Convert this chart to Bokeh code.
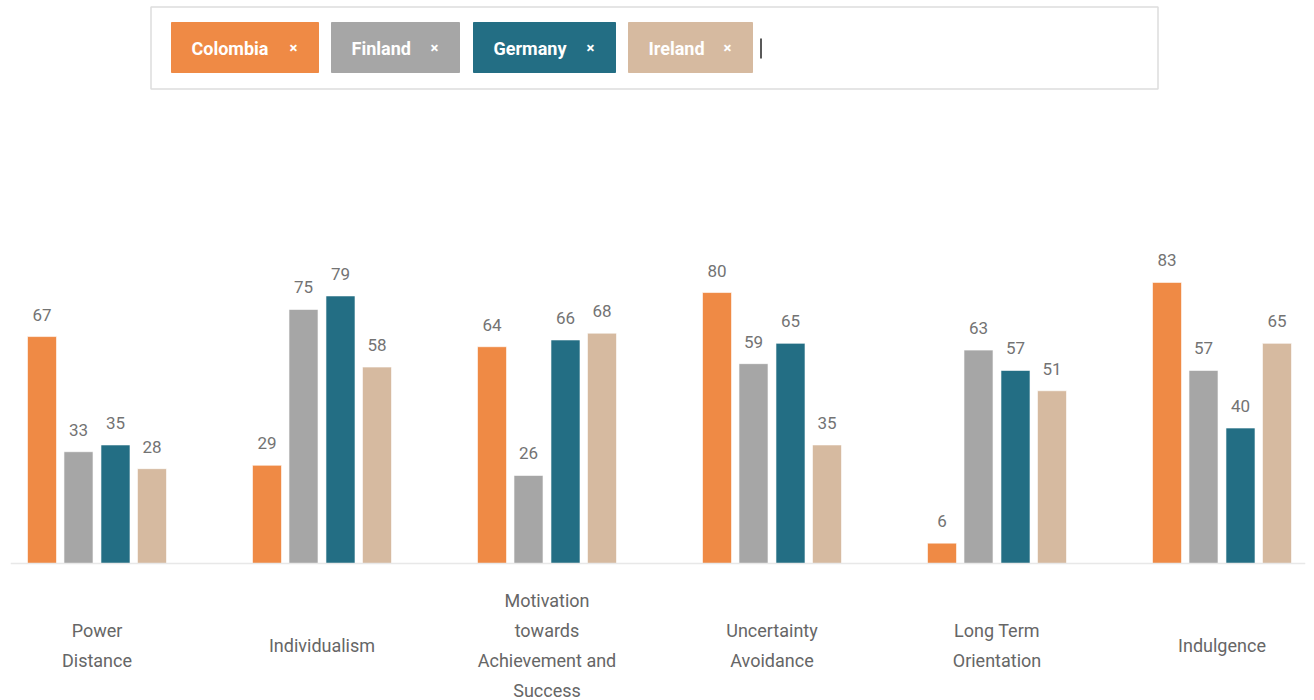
from bokeh.plotting import figure
from bokeh.models import ColumnDataSource, Range1d, Span
from bokeh.transform import dodge
from bokeh.layouts import column
from bokeh.core.properties import value
from bokeh.embed import file_html
from bokeh.resources import INLINE

# ---------------- data ----------------
categories = ["Power Distance", "Individualism",
              "Motivation towards Achievement and Success",
              "Uncertainty Avoidance", "Long Term Orientation", "Indulgence"]
category_labels = ["Power\nDistance", "Individualism",
                   "Motivation\ntowards\nAchievement and\nSuccess",
                   "Uncertainty\nAvoidance", "Long Term\nOrientation", "Indulgence"]
countries = ["Colombia", "Finland", "Germany", "Ireland"]
colombia = [67, 29, 64, 80, 6, 83]
finland = [33, 75, 26, 59, 63, 57]
germany = [35, 79, 66, 65, 57, 40]
ireland = [28, 58, 68, 35, 51, 65]
series = [colombia, finland, germany, ireland]
colors = ["#EF8A45", "#A6A6A6", "#236E84", "#D6BAA0"]

FONT = "Roboto"
W = 1314
BL, BR = 10, 9  # frame borders (shared by both figures, column aligns frames)

# ---------------- legend (tag selector) ----------------
leg = figure(width=W, height=100, x_range=Range1d(BL, W - BR), y_range=Range1d(100, 0),
             x_axis_location=None, y_axis_location=None, toolbar_location=None,
             output_backend="svg", min_border_left=BL, min_border_right=BR,
             min_border_top=0, min_border_bottom=0, outline_line_color=None)
leg.xgrid.visible = False
leg.ygrid.visible = False
leg.quad(left=[150.5], right=[1157.5], top=[6.5], bottom=[88.5],
         fill_color="white", line_color="#DDDDDD", line_width=1.5)
tag_edges = [(171, 318), (331, 459), (473, 615), (628, 752)]
tsrc = ColumnDataSource(dict(
    left=[a for a, b in tag_edges], right=[b for a, b in tag_edges],
    tx=[a + 20 for a, b in tag_edges], xx=[b - 25 for a, b in tag_edges],
    name=countries, color=colors, y=[47.5] * 4, top=[22] * 4, bottom=[72] * 4,
    cross=["\u00d7"] * 4))
leg.quad(left="left", right="right", top="top", bottom="bottom",
         fill_color="color", line_color="color", source=tsrc)
leg.text(x="tx", y="y", text="name", source=tsrc, text_color="white",
         text_font=value(FONT), text_font_style="bold", text_font_size="18px",
         text_baseline="middle", text_align="left")
leg.text(x="xx", y="y", text="cross", source=tsrc, text_color="white",
         text_font=value(FONT), text_font_style="bold", text_font_size="15px",
         text_baseline="middle", text_align="center")
leg.segment(x0=[760.5], x1=[760.5], y0=[38], y1=[58], line_color="#222222", line_width=1.5)

# ---------------- chart ----------------
p = figure(width=W, height=600, x_range=Range1d(-0.3844, 5.3711),
           y_range=Range1d(-40.45, 136.7),
           x_axis_location=None, y_axis_location=None, toolbar_location=None,
           output_backend="svg", min_border_left=BL, min_border_right=BR,
           min_border_top=0, min_border_bottom=0, outline_line_color=None)
p.xgrid.visible = False
p.ygrid.visible = False

p.add_layout(Span(location=0, dimension="width", line_color="#E8E8E8", line_width=1.5))

idx = list(range(len(categories)))
offsets = [-0.2444, -0.0822, 0.0822, 0.2444]
for name, vals, col, off in zip(countries, series, colors, offsets):
    src = ColumnDataSource(dict(idx=idx, v=vals, lab=[str(v) for v in vals]))
    p.vbar(x=dodge("idx", off), top="v", bottom=0, width=0.129, source=src,
           fill_color=col, line_color="white", line_alpha=0.6, line_width=1)
    p.text(x=dodge("idx", off), y="v", text="lab", source=src,
           text_color="#737373", text_font=value(FONT), text_font_size="17px",
           text_align="center", text_baseline="middle", y_offset=-22)

csrc = ColumnDataSource(dict(idx=idx, lab=category_labels, y=[-24.2] * len(idx)))
p.text(x="idx", y="y", text="lab", source=csrc, text_color="#666666",
       text_font=value(FONT), text_font_size="18px", text_align="center",
       text_baseline="middle", text_line_height=1.43)

layout = column(leg, p, spacing=0)
open("out.html", "w").write(file_html(layout, INLINE))
